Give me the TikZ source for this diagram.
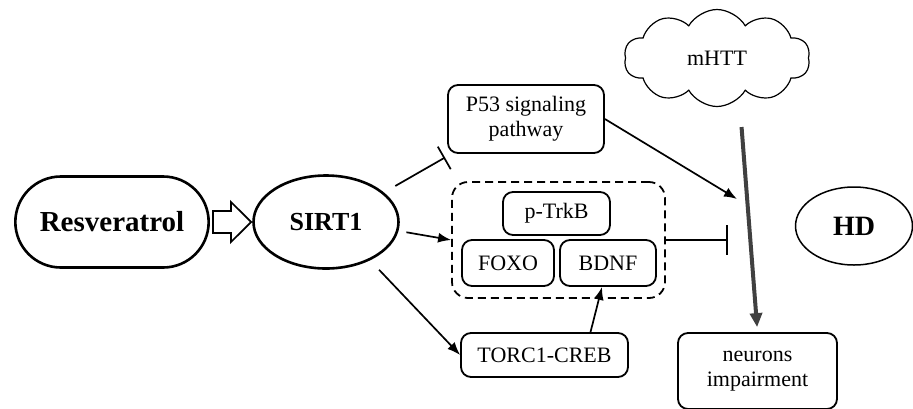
\documentclass[tikz,border=0pt]{standalone}
\usepackage{fontspec}
\setmainfont{Liberation Serif}
\usetikzlibrary{shapes.misc,shapes.geometric,shapes.symbols,arrows.meta,calc}
\begin{document}
\begin{tikzpicture}[x=1pt,y=-1pt,
  txt/.style={font=\fontsize{22}{25}\selectfont},
  box/.style={draw,line width=1.8pt,rounded corners=10pt,align=center,txt,inner sep=0pt},
  act/.style={line width=1.7pt,-{Latex[length=13pt,width=10pt]}},
  inh/.style={line width=1.7pt,-{Bar[width=#1,line width=1.7pt]}},
  inh/.default=26pt]
\useasboundingbox (0,0) rectangle (913,408);
% main nodes
\node[draw,line width=2.6pt,rounded rectangle,minimum width=200pt,minimum height=91pt,
  font=\fontsize{29}{32}\selectfont\bfseries] (res) at (112,222) {Resveratrol};
\node[draw,line width=2.6pt,ellipse,minimum width=145pt,minimum height=93pt,inner sep=0pt,
  font=\fontsize{26}{30}\selectfont\bfseries] (sirt) at (326,222) {SIRT1};
\node[draw,line width=1.5pt,ellipse,minimum width=117pt,minimum height=78pt,inner sep=0pt,
  font=\fontsize{28}{30}\selectfont\bfseries] (hd) at (854,226) {HD};
\node[box,minimum width=156pt,minimum height=68pt] (p53) at (526,119) {P53 signaling\\pathway};
\node[draw,dashed,dash pattern=on 8pt off 5pt,line width=1.8pt,rounded corners=16pt,
  minimum width=213pt,minimum height=116pt] (grp) at (558.5,240) {};
\node[box,minimum width=107pt,minimum height=43pt] (trkb) at (556.5,213.5) {p-TrkB};
\node[box,minimum width=92pt,minimum height=46pt] (foxo) at (508,263) {FOXO};
\node[box,minimum width=96pt,minimum height=46pt] (bdnf) at (608,263) {BDNF};
\node[box,minimum width=167pt,minimum height=44pt] (torc) at (544.5,355) {TORC1-CREB};
\node[box,minimum width=159pt,minimum height=76pt] (neur) at (757.5,371) {neurons\\impairment};
\node[draw,line width=1.2pt,cloud,cloud puffs=10,cloud puff arc=120,aspect=1.9,
  minimum width=186pt,minimum height=97pt,txt] (mhtt) at (717,58) {mHTT};
% free ends
\coordinate (p53bar) at (445,157.5);
\coordinate (hit) at (737,199);
\coordinate (grpbar) at (728,240);
% hollow arrow Resveratrol -> SIRT1
\draw[line width=1.7pt,line join=miter]
  ([xshift=3pt]res.east) ++(0,-11) -- ++(18,0) -- ++(0,-9) -- ($(sirt.west)+(-1,0)$)
  -- ($(res.east)+(21,20)$) -- ++(0,-9) -- ($(res.east)+(3,11)$) -- cycle;
% connectors
\draw[inh,shorten <=13pt] (sirt.27) -- (p53bar);
\draw[act,shorten <=8pt] (sirt.-7) -- (grp.west);
\draw[act,shorten <=13pt] (sirt.-41.5) -- (torc.west);
\draw[act] ([xshift=46pt]torc.north) -- ([xshift=-6pt]bdnf.south);
\draw[act] (p53.east) -- (hit);
\draw[inh=30pt] (grp.east) -- (grpbar);
\draw[line width=4pt,draw=black!75,shorten <=20pt,shorten >=5pt,
  -{Triangle[length=14pt,width=12pt]}] ([xshift=23pt]mhtt.south) -- (neur.north);
\end{tikzpicture}
\end{document}
